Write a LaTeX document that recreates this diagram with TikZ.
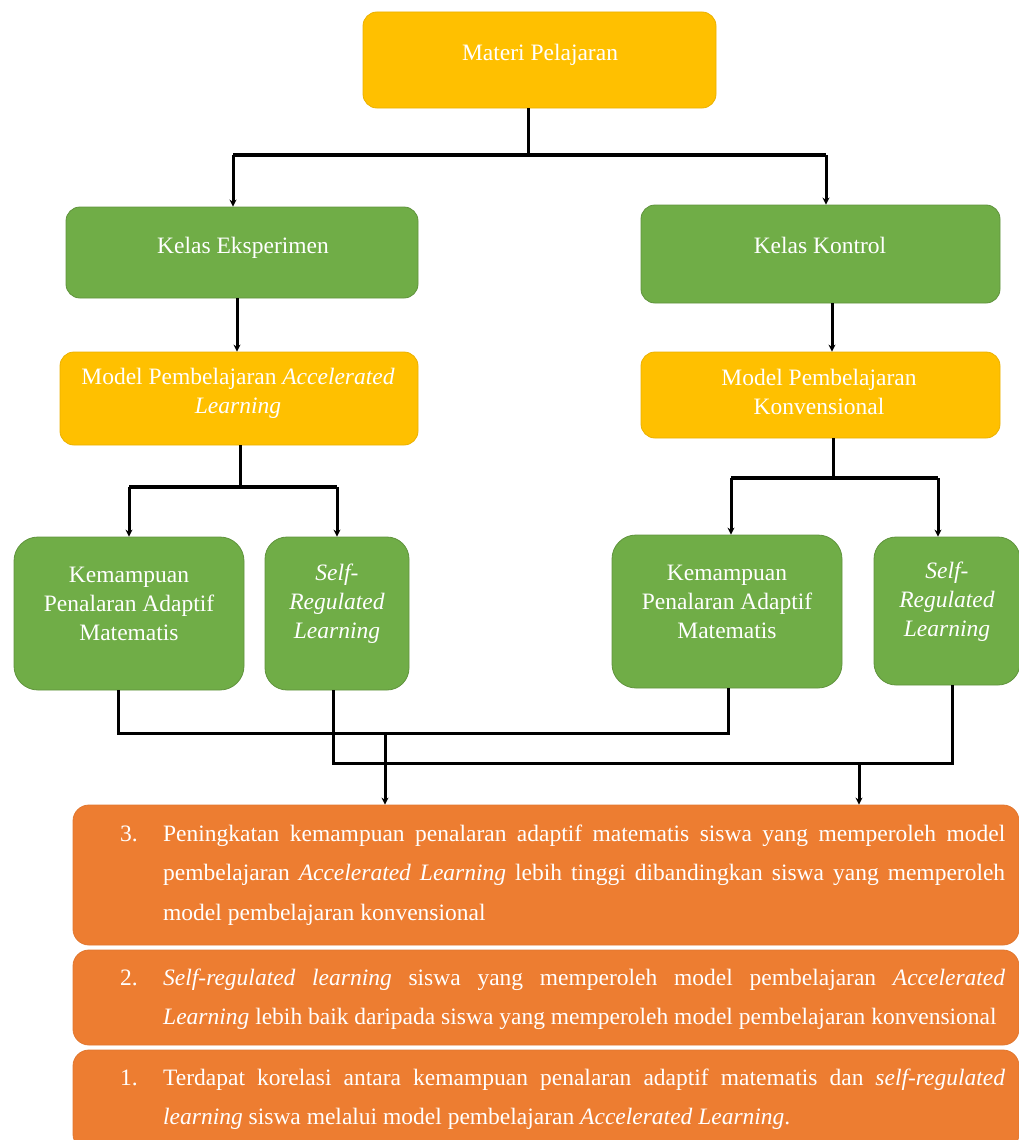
\documentclass[tikz,border=0pt]{standalone}
\usepackage{fontspec}
\setmainfont{Liberation Serif}
\usetikzlibrary{arrows.meta}
\definecolor{yel}{HTML}{FFC000}
\definecolor{grn}{HTML}{70AD47}
\definecolor{org}{HTML}{ED7D31}
\begin{document}
\begin{tikzpicture}[x=1pt,y=-1pt,
  ybox/.style={fill=yel, draw=yel!92!black, line width=0.8pt, rounded corners=14pt, inner sep=0pt},
  gbox/.style={fill=grn, draw=grn!85!black, line width=0.8pt, rounded corners=14pt, inner sep=0pt},
  obox/.style={fill=org, draw=org!95!black, line width=0.8pt, rounded corners=16pt, inner sep=0pt},
  lbl/.style={text=white, font=\fontsize{23.5}{29}\selectfont, align=center, inner sep=0pt},
  olbl/.style={text=white, font=\fontsize{23.5}{39.5}\selectfont, inner sep=0pt, anchor=base west},
  conn/.style={line width=3pt},
  bar/.style={line width=3.5pt},
  arr/.style={line width=3pt, -{Stealth[length=7pt,width=7pt]}},
]
\useasboundingbox (0,0) rectangle (1019,1140);
\clip (0,0) rectangle (1019,1140);

% boxes
\node[ybox, minimum width=353pt, minimum height=96pt] (materi) at (539.5,60) {};
\node[gbox, minimum width=352pt, minimum height=91pt] (eks) at (242,252.5) {};
\node[gbox, minimum width=359pt, minimum height=98pt] (kon) at (820.5,254) {};
\node[ybox, minimum width=358pt, minimum height=93pt] (mA) at (239,398.5) {};
\node[ybox, minimum width=359pt, minimum height=86pt] (mK) at (820.5,395) {};
\node[gbox, rounded corners=24pt, minimum width=230pt, minimum height=153pt] (kL) at (129,613.5) {};
\node[gbox, rounded corners=22pt, minimum width=144pt, minimum height=153pt] (sL) at (337,613.5) {};
\node[gbox, rounded corners=24pt, minimum width=230pt, minimum height=153pt] (kR) at (727,611.5) {};
\node[gbox, rounded corners=22pt, minimum width=146pt, minimum height=148pt] (sR) at (947,611) {};
\node[obox, minimum width=946pt, minimum height=140pt] (r3) at (546,875) {};
\node[obox, minimum width=946pt, minimum height=95pt] (r2) at (546,997.5) {};
\node[obox, minimum width=946pt, minimum height=100pt] (r1) at (546,1100) {};

% labels
\node[lbl, anchor=base] (tmat) at (540,61) {Materi Pelajaran};
\node[lbl, anchor=base] (teks) at (243,253) {Kelas Eksperimen};
\node[lbl, anchor=base] (tkon) at (820,253) {Kelas Kontrol};
\node[lbl] (tmA) at (238,393) {Model Pembelajaran \textit{Accelerated}\\\textit{Learning}};
\node[lbl] (tmK) at (819,392) {Model Pembelajaran\\Konvensional};
\node[lbl] (tkL) at (129,604) {Kemampuan\\Penalaran Adaptif\\Matematis};
\node[lbl] (tsL) at (337,604) {\textit{Self-}\\\textit{Regulated}\\\textit{Learning}};
\node[lbl] (tkR) at (727,602) {Kemampuan\\Penalaran Adaptif\\Matematis};
\node[lbl] (tsR) at (947,602) {\textit{Self-}\\\textit{Regulated}\\\textit{Learning}};

\node[olbl] (t3) at (120,841) {\makebox[43pt][l]{3.}\parbox[t]{842pt}{\hyphenpenalty=10000\exhyphenpenalty=10000\tolerance=10000
Peningkatan kemampuan penalaran adaptif matematis siswa yang memperoleh model\linebreak
pembelajaran \textit{Accelerated Learning} lebih tinggi dibandingkan siswa yang memperoleh\linebreak
model pembelajaran konvensional}};
\node[olbl] (t2) at (120,985) {\makebox[43pt][l]{2.}\parbox[t]{842pt}{\hyphenpenalty=10000\exhyphenpenalty=10000\tolerance=10000
\textit{Self-regulated learning} siswa yang memperoleh model pembelajaran \textit{Accelerated}\linebreak
\textit{Learning} lebih baik daripada siswa yang memperoleh model pembelajaran konvensional}};
\node[olbl] (t1) at (120,1085) {\makebox[43pt][l]{1.}\parbox[t]{842pt}{\hyphenpenalty=10000\exhyphenpenalty=10000\tolerance=10000
Terdapat korelasi antara kemampuan penalaran adaptif matematis dan \textit{self-regulated}\linebreak
\textit{learning} siswa melalui model pembelajaran \textit{Accelerated Learning}.}};

% connectors: materi -> kelas
\coordinate (j0) at (528,155);
\coordinate (jL) at (233,155);
\coordinate (jR) at (826,155);
\draw[conn] (materi.south -| j0) -- (j0);
\draw[bar] (jL) -- (jR);
\draw[arr] (jL) -- (jL |- eks.north);
\draw[arr] (jR) -- (jR |- kon.north);

% kelas -> model
\coordinate (s1) at (237,0);
\coordinate (s2) at (832,0);
\draw[arr] (eks.south -| s1) -- (mA.north -| s1);
\draw[arr] (kon.south -| s2) -- (mK.north -| s2);

% model accelerated -> left pair
\coordinate (j2) at (240,487);
\coordinate (j2L) at (129,487);
\coordinate (j2R) at (337,487);
\draw[conn] (mA.south -| j2) -- (j2);
\draw[bar] (j2L) -- (j2R);
\draw[arr] (j2L) -- (j2L |- kL.north);
\draw[arr] (j2R) -- (j2R |- sL.north);

% model konvensional -> right pair
\coordinate (j3) at (833,478);
\coordinate (j3L) at (731,478);
\coordinate (j3R) at (938,478);
\draw[conn] (mK.south -| j3) -- (j3);
\draw[bar] (j3L) -- (j3R);
\draw[arr] (j3L) -- (j3L |- kR.north);
\draw[arr] (j3R) -- (j3R |- sR.north);

% bottom: kemampuan pair -> result 3
\coordinate (b1) at (118,733);
\coordinate (b2) at (728,733);
\coordinate (b3) at (385,733);
\draw[conn] (kL.south -| b1) -- (b1) -- (b2) -- (kR.south -| b2);
\draw[arr] (b3) -- (r3.north -| b3);

% bottom: SRL pair -> result 2
\coordinate (c1) at (333,763);
\coordinate (c2) at (952,763);
\coordinate (c3) at (859,763);
\draw[conn] (sL.south -| c1) -- (c1) -- (c2) -- (sR.south -| c2);
\draw[arr] (c3) -- (r3.north -| c3);
\end{tikzpicture}
\end{document}
